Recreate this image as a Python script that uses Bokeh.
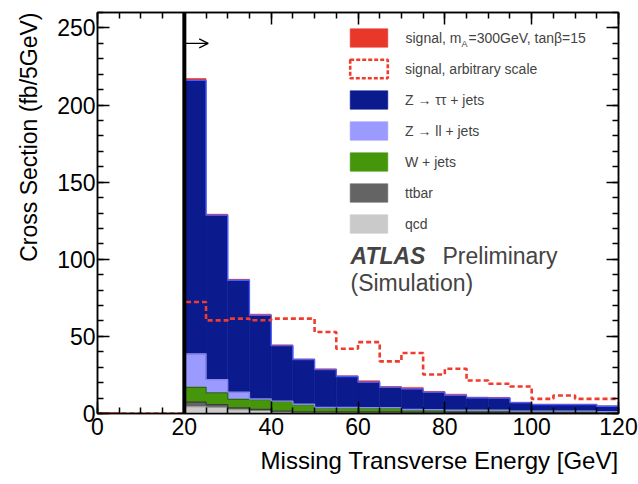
import math
from bokeh.plotting import figure
from bokeh.models import (Range1d, LinearAxis, FixedTicker, Span, Arrow, OpenHead,
                          Label, Legend, LegendItem, ColumnDataSource, Title)
from bokeh.embed import file_html
from bokeh.resources import INLINE

# ---------------- data ----------------
BIN = 5
bin_lo = list(range(20, 120, BIN))            # 20 .. 115 (GeV)
qcd    = [4.5, 4.0, 2.6, 2.0, 1.0, 0.6, 0.5, 0.4, 0.3, 0.3, 0.2, 0.2, 0.2, 0.1, 0.1, 0.1, 0.1, 0.1, 0.1, 0.1]
ttbar  = [2.9, 1.8, 1.1, 0.6, 0.5, 0.4, 0.5, 0.6, 0.7, 0.7, 0.7, 0.7, 0.6, 0.7, 0.7, 0.5, 0.5, 0.5, 0.5, 0.4]
wjets  = [9.6, 7.6, 5.4, 6.4, 6.3, 4.8, 2.7, 2.7, 2.7, 2.7, 1.6, 1.5, 1.2, 1.2, 1.2, 0.9, 0.9, 0.9, 0.9, 0.6]
zll    = [21.7, 8.6, 4.8, 0.4, 0.2, 0.2, 0.2, 0.2, 0.1, 0.1, 0.1, 0.1, 0.1, 0.1, 0.1, 0.1, 0.1, 0.1, 0.1, 0.1]
ztautau = [177.3, 106.6, 72.5, 54.2, 36.0, 29.0, 24.6, 20.1, 16.5, 13.2, 13.4, 11.3, 9.6, 8.1, 7.9, 5.4, 4.2, 4.2, 4.2, 3.5]
signal = [1.2, 0.6, 0.6, 0.8, 0.5, 0.4, 0.5, 0.5, 0.9, 0.5, 0.9, 0.5, 0.8, 0.4, 0.4, 0.3, 0.3, 0.3, 0.3, 0.2]

sig_lo = list(range(0, 120, BIN))             # 0 .. 115 (GeV)
signal_scaled = [0, 0, 0, 0, 72.3, 60.4, 61.5, 60.5, 61.5, 61.5, 52.8, 42.0, 46.3, 33.8,
                 39.2, 25.3, 29.0, 21.4, 19.3, 17.5, 9.5, 11.7, 9.5, 9.5]

x_ticks = [0, 20, 40, 60, 80, 100, 120]
y_ticks = [0, 50, 100, 150, 200, 250]
met_cut = 20

names  = ["qcd", "ttbar", "W + jets", "Z \u2192 ll + jets", "Z \u2192 \u03c4\u03c4 + jets", "signal"]
series = [qcd, ttbar, wjets, zll, ztautau, signal]
fills  = ["#cacaca", "#646464", "#46960c", "#9a9aff", "#0b1b8e", "#e8382a"]
edges  = ["#9a9a9a", "#3c3c3c", "#2e6a08", "#8a8af0", "#4a5cff", "#b02818"]

# ---------------- figure ----------------
p = figure(width=638, height=484, output_backend="svg", toolbar_location=None,
           x_range=Range1d(0, 120), y_range=Range1d(0, 260),
           min_border_left=97, min_border_right=20, min_border_top=12, min_border_bottom=71)
p.grid.visible = False
p.outline_line_color = "black"
p.outline_line_width = 1.5
p.background_fill_color = "white"
p.border_fill_color = "white"

FONT = "Liberation Sans"

def style_axis(ax, ticks, minor, labels=True):
    ax.ticker = FixedTicker(ticks=ticks, minor_ticks=minor)
    ax.major_tick_in = 12
    ax.major_tick_out = 0
    ax.minor_tick_in = 6
    ax.minor_tick_out = 0
    ax.axis_line_color = "black"
    ax.axis_line_width = 1.5
    ax.major_tick_line_width = 1.5
    ax.minor_tick_line_width = 1.5
    ax.major_tick_line_color = "black"
    ax.minor_tick_line_color = "black"
    if labels:
        ax.major_label_text_font = FONT
        ax.major_label_text_font_size = "23px"
        ax.major_label_text_color = "black"
    else:
        ax.major_label_overrides = {t: "" for t in ticks}
        ax.major_label_standoff = 0

x_minor = list(range(0, 121, 5))
y_minor = list(range(0, 261, 10))
style_axis(p.xaxis[0], x_ticks, x_minor)
style_axis(p.yaxis[0], y_ticks, y_minor)
p.xaxis[0].major_label_standoff = 4
p.yaxis[0].major_label_standoff = 2

top_ax = LinearAxis()
right_ax = LinearAxis()
style_axis(top_ax, x_ticks, x_minor, labels=False)
style_axis(right_ax, y_ticks, y_minor, labels=False)
p.add_layout(top_ax, "above")
p.add_layout(right_ax, "right")

# axis titles (aligned to the axis ends, ROOT style)
p.add_layout(Title(text="Missing Transverse Energy [GeV]", align="right", text_font=FONT,
                   text_font_size="24px", text_font_style="normal", text_color="black",
                   standoff=14), "below")
p.add_layout(Title(text="Cross Section (fb/5GeV)", align="right", text_font=FONT,
                   text_font_size="23px", text_font_style="normal", text_color="black",
                   standoff=25), "left")

# ---------------- stacked histogram ----------------
def step_outline(lo, vals):
    xs, ys = [lo[0]], [0]
    for l, v in zip(lo, vals):
        xs += [l, l + BIN]
        ys += [v, v]
    return xs, ys

bottom = [0.0] * len(bin_lo)
renderers = {}
tops_list = []
for name, vals, fc in zip(names, series, fills):
    top = [b + v for b, v in zip(bottom, vals)]
    src = ColumnDataSource(dict(left=bin_lo, right=[l + BIN for l in bin_lo], bottom=bottom, top=top))
    r = p.quad(left="left", right="right", bottom="bottom", top="top", source=src,
               fill_color=fc, line_color=fc, line_width=0.6)
    renderers[name] = r
    tops_list.append(top)
    bottom = top

# outlines of the cumulative histograms
for top, ec in zip(tops_list[:-1], edges[:-1]):
    xs, ys = step_outline(bin_lo, top)
    p.line(xs, ys, line_color=ec, line_width=1.3)

# signal at arbitrary scale (dashed)
xs, ys = step_outline(sig_lo, signal_scaled)
p.line(xs, ys, line_color="#f03c2c", line_width=2.6, line_dash="5 3")
dummy = p.quad(left=sig_lo[:1], right=[sig_lo[0] + BIN], bottom=[0], top=signal_scaled[:1],
               fill_color=None, line_color="#f03c2c", line_width=2.6, line_dash="4 2")

# cut line and arrow
p.add_layout(Span(location=met_cut, dimension="height", line_color="black", line_width=4))
p.add_layout(Arrow(end=OpenHead(size=9, line_width=1.2, line_color="black"),
                   x_start=met_cut, y_start=240, x_end=met_cut + 5.5, y_end=240,
                   line_width=1.2, line_color="black"))

# ---------------- legend ----------------
items = [LegendItem(label=" ", renderers=[renderers["signal"]]),
         LegendItem(label="signal, arbitrary scale", renderers=[dummy])]
for name in ["Z \u2192 \u03c4\u03c4 + jets", "Z \u2192 ll + jets", "W + jets", "ttbar", "qcd"]:
    items.append(LegendItem(label=name, renderers=[renderers[name]]))
leg = Legend(items=items, location=(248, 178), padding=0, margin=0, spacing=8,
             glyph_width=47, glyph_height=23, label_height=23, label_standoff=13,
             label_text_font=FONT, label_text_font_size="14px",
             border_line_color=None, background_fill_alpha=0)
p.add_layout(leg)

# first legend label with subscript
p.add_layout(Label(x=308, y=375.5, x_units="screen", y_units="screen", text="signal, m",
                   text_font=FONT, text_font_size="14px", text_baseline="middle"))
p.add_layout(Label(x=364, y=370, x_units="screen", y_units="screen", text="A",
                   text_font=FONT, text_font_size="9px", text_baseline="middle"))
p.add_layout(Label(x=371, y=375.5, x_units="screen", y_units="screen", text="=300GeV, tan\u03b2=15",
                   text_font=FONT, text_font_size="14px", text_baseline="middle"))

# ATLAS label
p.add_layout(Label(x=253, y=158, x_units="screen", y_units="screen", text="ATLAS",
                   text_font=FONT, text_font_size="23px", text_font_style="bold italic",
                   text_baseline="alphabetic"))
p.add_layout(Label(x=345, y=158, x_units="screen", y_units="screen", text="Preliminary",
                   text_font=FONT, text_font_size="23px", text_baseline="alphabetic"))
p.add_layout(Label(x=253, y=131, x_units="screen", y_units="screen", text="(Simulation)",
                   text_font=FONT, text_font_size="23px", text_baseline="alphabetic"))

open("out.html", "w").write(file_html(p, INLINE))
